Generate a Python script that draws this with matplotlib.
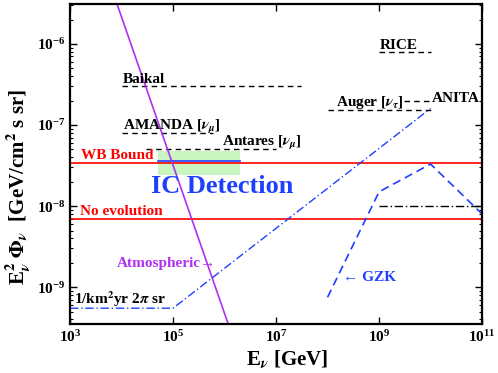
import numpy as np
import matplotlib
matplotlib.use('Agg')
import matplotlib.pyplot as plt
from matplotlib.ticker import FixedLocator, NullFormatter, NullLocator

RED = '#ff0000'
BLUE = '#1f3fff'
PURPLE = '#b030f0'
GREEN = '#c8f5c0'

plt.rcParams.update({
    'font.family': 'serif', 'font.serif': ['Liberation Serif', 'DejaVu Serif'],
    'font.weight': 'bold', 'mathtext.fontset': 'stix', 'font.size': 10,
    'axes.linewidth': 1.6,
})

# experiment sensitivities (E range, flux level)
baikal_e = [1e4, 3e7]; baikal_f = 3e-7
amanda_e = [1e4, 6e5]; amanda_f = 8e-8
antares_e = [3e4, 1e7]; antares_f = 5e-8
rice_e = [1e9, 1e10]; rice_f = 7.9e-7
auger_e = [1e8, 1e10]; auger_f = 1.55e-7
anita_e = [3e9, 1e10]; anita_f = 2e-7

wb_bound = 3.4e-8
no_evol = 7e-9

# IC detection box
ic_e = [5e4, 2e6]; ic_lo, ic_hi = 2.4e-8, 4.8e-8; ic_level = 3.6e-8

# atmospheric
atm_e = [8.1e3, 1.2e6]; atm_f = [3.16e-6, 3.4e-10]

# 1/km2 yr 2pi sr
km_e = [1e3, 1e5, 1e10]; km_f = [5.5e-10, 5.5e-10, 1.6e-7]

# GZK
gzk_e = [1e8, 1e9, 1e10, 1e11]; gzk_f = [7.5e-10, 1.5e-8, 3.3e-8, 8e-9]

# black dash-dot
bdd_e = [1e9, 1e11]; bdd_f = 1e-8

x_ticks = [1e3, 1e5, 1e7, 1e9, 1e11]
y_ticks = [1e-9, 1e-8, 1e-7, 1e-6]
y_minor = [m * 10.0**p for p in range(-10, -5) for m in range(2, 10)
           if 3.5e-10 <= m * 10.0**p <= 3.1e-6]

fig = plt.figure(figsize=(4.98, 3.73), dpi=100)
ax = fig.add_axes([0.1406, 0.131, 0.8274, 0.858])
ax.set_xscale('log'); ax.set_yscale('log')
ax.set_xlim(1e3, 1e11); ax.set_ylim(3.5e-10, 3.1e-6)

ax.fill_between(ic_e, ic_lo, ic_hi, color=GREEN, lw=0, zorder=1)
ax.plot(ic_e, [ic_level]*2, color=BLUE, lw=1.2, zorder=2)

ax.axhline(wb_bound, color=RED, lw=1.2)
ax.axhline(no_evol, color=RED, lw=1.2)

ds = dict(color='k', lw=1, ls=(0, (4, 3)))
for e, f in [(baikal_e, baikal_f), (amanda_e, amanda_f), (antares_e, antares_f),
             (rice_e, rice_f), (auger_e, auger_f), (anita_e, anita_f)]:
    ax.plot(e, [f, f], **ds)

ax.plot(atm_e, atm_f, color=PURPLE, lw=1.2)
ax.plot(km_e, km_f, color=BLUE, lw=1, ls=(0, (6, 2, 1, 2)))
ax.plot(gzk_e, gzk_f, color=BLUE, lw=1.2, ls=(0, (5, 3)))
ax.plot(bdd_e, [bdd_f]*2, color='k', lw=1, ls=(0, (6, 2, 1, 2)))

tk = dict(fontsize=11, fontweight='bold')
ax.text(1.05e4, 3.3e-7, 'Baikal', **tk)
ax.text(1.05e4, 8.8e-8, r'AMANDA [$\nu_\mu$]', **tk)
ax.text(9e5, 5.5e-8, r'Antares [$\nu_\mu$]', **tk)
ax.text(1.05e9, 8.6e-7, 'RICE', **tk)
ax.text(1.45e8, 1.7e-7, r'Auger [$\nu_\tau$]', **tk)
ax.text(1.05e10, 1.95e-7, 'ANITA', **tk)
ax.text(1.6e3, 3.8e-8, 'WB Bound', color=RED, **tk)
ax.text(1.55e3, 7.7e-9, 'No evolution', color=RED, **tk)
ax.text(1.2e3, 6.2e-10, r'1/km$^2$yr 2$\pi$ sr', **tk)
ax.text(8.2e3, 1.75e-9, 'Atmospheric\u2192', color=PURPLE, **tk)
ax.text(2.0e8, 1.2e-9, '\u2190 GZK', color=BLUE, **tk)
ax.text(3.8e4, 1.45e-8, 'IC Detection', color=BLUE, fontsize=19, fontweight='bold')

ax.xaxis.set_major_locator(FixedLocator(x_ticks))
ax.xaxis.set_minor_locator(NullLocator())
ax.yaxis.set_major_locator(FixedLocator(y_ticks))
ax.yaxis.set_minor_locator(FixedLocator(y_minor))
ax.yaxis.set_minor_formatter(NullFormatter())
ax.tick_params(which='both', direction='in', top=True, right=True, labelsize=11)
ax.tick_params(which='major', length=5, width=1)
ax.tick_params(which='minor', length=2.5, width=0.8)

ax.set_xlabel(r'E$_\nu$ [GeV]', fontsize=15, fontweight='bold')
ax.set_ylabel(r'E$_\nu^2$ $\Phi_\nu$  [GeV/cm$^2$ s sr]', fontsize=15, fontweight='bold')
ax.xaxis.set_label_coords(0.527, -0.075)
ax.yaxis.set_label_coords(-0.09, 0.43)

plt.savefig('out.png', dpi=100)
